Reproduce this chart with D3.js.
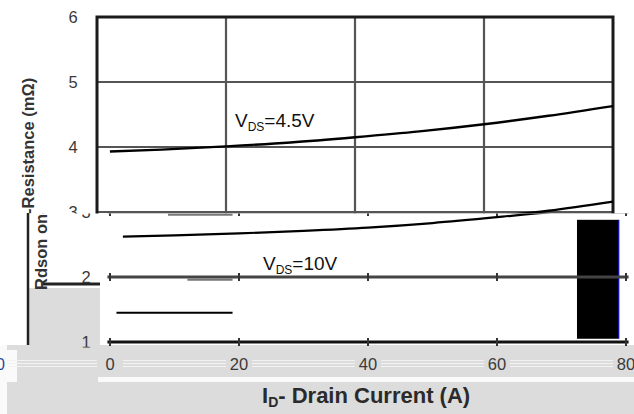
<!DOCTYPE html>
<html>
<head>
<meta charset="utf-8">
<script src="https://cdn.jsdelivr.net/npm/d3@7"></script>
<style>
  body { margin: 0; background: #fff; }
  svg { display: block; }
</style>
</head>
<body>
<div id="chart"></div>
<script>
// curves (I in A, R in mOhm)
const current = [2, 10, 20, 30, 40, 50, 60, 70, 80];
const vds45 = [3.93, 3.96, 4.01, 4.07, 4.15, 4.24, 4.35, 4.48, 4.63];
const vds10 = [2.62, 2.64, 2.67, 2.71, 2.76, 2.83, 2.92, 3.02, 3.16];

const xTicks = [0, 20, 40, 60, 80];
const yTicks = [1, 2, 3, 4, 5, 6];

// stray lines from the damaged lower half, in data units (I0, I1, R)
const strays = [
    { i0: 9, i1: 19, r: 2.96, color: "#777" },
    { i0: 12, i1: 19, r: 1.96, color: "#777" },
    { i0: 1, i1: 19, r: 1.45, color: "#000" }
];
// black block covering the right end of the lower half
const block = { i0: 72.4, i1: 78.9, r0: 2.88, r1: 1.05 };

const width = 634;
const height = 414;
const shift = 13; // lower half is drawn 13px to the right

const svg = d3.select("#chart")
    .append("svg")
    .attr("width", width)
    .attr("height", height)
    .style("font-family", "'Liberation Sans', Arial, sans-serif");

const x = d3.scaleLinear().domain([0, 80]).range([97, 613]);
const y = d3.scaleLinear().domain([1, 6]).range([342, 17]);

const line = d3.line()
    .x((d, i) => x(current[i]))
    .y(d => y(d))
    .curve(d3.curveMonotoneX);

const defs = svg.append("defs");
defs.append("clipPath").attr("id", "clipTop")
    .append("rect").attr("x", 0).attr("y", 0).attr("width", width).attr("height", 213.5);
defs.append("clipPath").attr("id", "clipBottom")
    .append("rect").attr("x", 17).attr("y", 213.5).attr("width", width).attr("height", 134);

function curveLabel(g, px, py, tail) {
    const t = g.append("text")
        .attr("x", px).attr("y", py)
        .attr("font-size", 19)
        .attr("fill", "#111");
    t.append("tspan").text("V");
    t.append("tspan").attr("font-size", 12).attr("dy", 4).text("DS");
    t.append("tspan").attr("dy", -4).text(tail);
}

function yTitle(g) {
    g.append("text")
        .attr("transform", "translate(34, 290) rotate(-90)")
        .attr("font-size", 16.5)
        .attr("font-weight", "bold")
        .attr("fill", "#333")
        .text("Rdson on-Resistance (mΩ)");
}

// ---------- upper half: the intact chart ----------
const upper = svg.append("g").attr("clip-path", "url(#clipTop)");

upper.append("g")
    .selectAll("line")
    .data(yTicks.filter(d => d > 1 && d < 6))
    .enter()
    .append("line")
    .attr("x1", x(0)).attr("x2", x(80))
    .attr("y1", d => y(d)).attr("y2", d => y(d))
    .attr("stroke", "#555")
    .attr("stroke-width", 2.2);

upper.append("g")
    .selectAll("line")
    .data(xTicks.filter(d => d > 0 && d < 80))
    .enter()
    .append("line")
    .attr("x1", d => x(d)).attr("x2", d => x(d))
    .attr("y1", y(6)).attr("y2", y(1))
    .attr("stroke", "#555")
    .attr("stroke-width", 2.2);

upper.append("rect")
    .attr("x", x(0)).attr("y", y(6))
    .attr("width", x(80) - x(0)).attr("height", y(1) - y(6))
    .attr("fill", "none")
    .attr("stroke", "#1a1a1a")
    .attr("stroke-width", 3);

upper.append("g")
    .selectAll("text")
    .data(yTicks)
    .enter()
    .append("text")
    .attr("x", 73).attr("y", d => y(d))
    .attr("dy", "0.36em")
    .attr("text-anchor", "middle")
    .attr("font-size", 16.5)
    .attr("fill", "#3a3a3a")
    .text(d => d);

yTitle(upper);

[vds45, vds10].forEach(s => {
    upper.append("path")
        .attr("d", line(s))
        .attr("fill", "none")
        .attr("stroke", "#000")
        .attr("stroke-width", 2.4);
});
curveLabel(upper, 235, 127, "=4.5V");

// ---------- background patches of the damaged lower half ----------
const patches = svg.append("g");
patches.append("rect").attr("x", 100).attr("y", 213.5).attr("width", width - 100).attr("height", 134.5).attr("fill", "#fff");
patches.append("rect").attr("x", 29).attr("y", 288).attr("width", 71).attr("height", 60).attr("fill", "#dcdcdc");
patches.append("rect").attr("x", 7).attr("y", 345).attr("width", width - 7).attr("height", height - 345).attr("fill", "#dcdcdc");
patches.append("rect").attr("x", 98).attr("y", 377).attr("width", width - 98).attr("height", 5).attr("fill", "#fafafa");
patches.append("rect").attr("x", 0).attr("y", 350).attr("width", 17).attr("height", 32).attr("fill", "#fafafa");
patches.append("rect").attr("x", 0).attr("y", 345).attr("width", 7).attr("height", height - 345).attr("fill", "#fafafa");
patches.append("line")
    .attr("x1", 28).attr("x2", 28).attr("y1", 213).attr("y2", 345)
    .attr("stroke", "#222").attr("stroke-width", 2.5);
patches.append("line")
    .attr("x1", 42).attr("x2", 100).attr("y1", 284).attr("y2", 284)
    .attr("stroke", "#222").attr("stroke-width", 3);

// ---------- lower half: same chart shifted right ----------
const low = svg.append("g").attr("clip-path", "url(#clipBottom)")
    .append("g").attr("transform", `translate(${shift}, 0)`);

yTitle(low);

low.append("rect")
    .attr("x", x(block.i0)).attr("y", y(block.r0))
    .attr("width", x(block.i1) - x(block.i0))
    .attr("height", y(block.r1) - y(block.r0))
    .attr("fill", "#000");
low.append("line")
    .attr("x1", x(block.i1)).attr("x2", x(block.i1))
    .attr("y1", y(block.r0)).attr("y2", y(block.r1))
    .attr("stroke", "#1010ff")
    .attr("stroke-width", 1);

low.append("g")
    .selectAll("line")
    .data([3, 2, 1])
    .enter()
    .append("line")
    .attr("x1", x(-0.4)).attr("x2", x(80.4))
    .attr("y1", d => y(d)).attr("y2", d => y(d))
    .attr("stroke", d => d === 1 ? "#111" : "#444")
    .attr("stroke-width", 3.2);

// small tick nubs where the vertical grid used to cross
low.append("g")
    .selectAll("line")
    .data(d3.cross(xTicks, [3, 2, 1]))
    .enter()
    .append("line")
    .attr("x1", d => x(d[0])).attr("x2", d => x(d[0]))
    .attr("y1", d => y(d[1]) - 4).attr("y2", d => y(d[1]) + 4)
    .attr("stroke", "#333")
    .attr("stroke-width", 2);

low.append("g")
    .selectAll("line")
    .data(strays)
    .enter()
    .append("line")
    .attr("x1", d => x(d.i0)).attr("x2", d => x(d.i1))
    .attr("y1", d => y(d.r)).attr("y2", d => y(d.r))
    .attr("stroke", d => d.color)
    .attr("stroke-width", 2.2);

low.append("path")
    .attr("d", line(vds10))
    .attr("fill", "none")
    .attr("stroke", "#000")
    .attr("stroke-width", 2.2);

low.append("g")
    .selectAll("text")
    .data(yTicks)
    .enter()
    .append("text")
    .attr("x", 73).attr("y", d => y(d))
    .attr("dy", "0.36em")
    .attr("text-anchor", "middle")
    .attr("font-size", 16.5)
    .attr("fill", "#3a3a3a")
    .text(d => d);

curveLabel(low, 250, 270, "=10V");

// ---------- x axis labels, sitting in the grey strip ----------
const xAxisG = svg.append("g").attr("transform", `translate(${shift}, 0)`);

[360.5, 363.5, 366.5].forEach(ly => {
    xAxisG.append("line")
        .attr("x1", -6).attr("x2", width)
        .attr("y1", ly).attr("y2", ly)
        .attr("stroke", "#f2f2f2")
        .attr("stroke-width", 1);
});

xAxisG.append("g")
    .selectAll("rect")
    .data(xTicks)
    .enter()
    .append("rect")
    .attr("x", d => x(d) - 13).attr("y", 352)
    .attr("width", 26).attr("height", 22)
    .attr("fill", "#dcdcdc");

xAxisG.append("g")
    .selectAll("text")
    .data(xTicks)
    .enter()
    .append("text")
    .attr("x", d => x(d)).attr("y", 364)
    .attr("dy", "0.36em")
    .attr("text-anchor", "middle")
    .attr("font-size", 16.5)
    .attr("fill", "#3a3a3a")
    .text(d => d);

// stray half digit at the far left
svg.append("text")
    .attr("x", -4).attr("y", 370)
    .attr("font-size", 16)
    .attr("fill", "#24489a")
    .text("0");

const xt = svg.append("text")
    .attr("x", 262).attr("y", 403)
    .attr("font-size", 22)
    .attr("font-weight", "bold")
    .attr("fill", "#2a2a2a");
xt.append("tspan").text("I");
xt.append("tspan").attr("font-size", 14).attr("dy", 4).text("D");
xt.append("tspan").attr("dy", -4).text("- Drain Current (A)");
</script>
</body>
</html>
